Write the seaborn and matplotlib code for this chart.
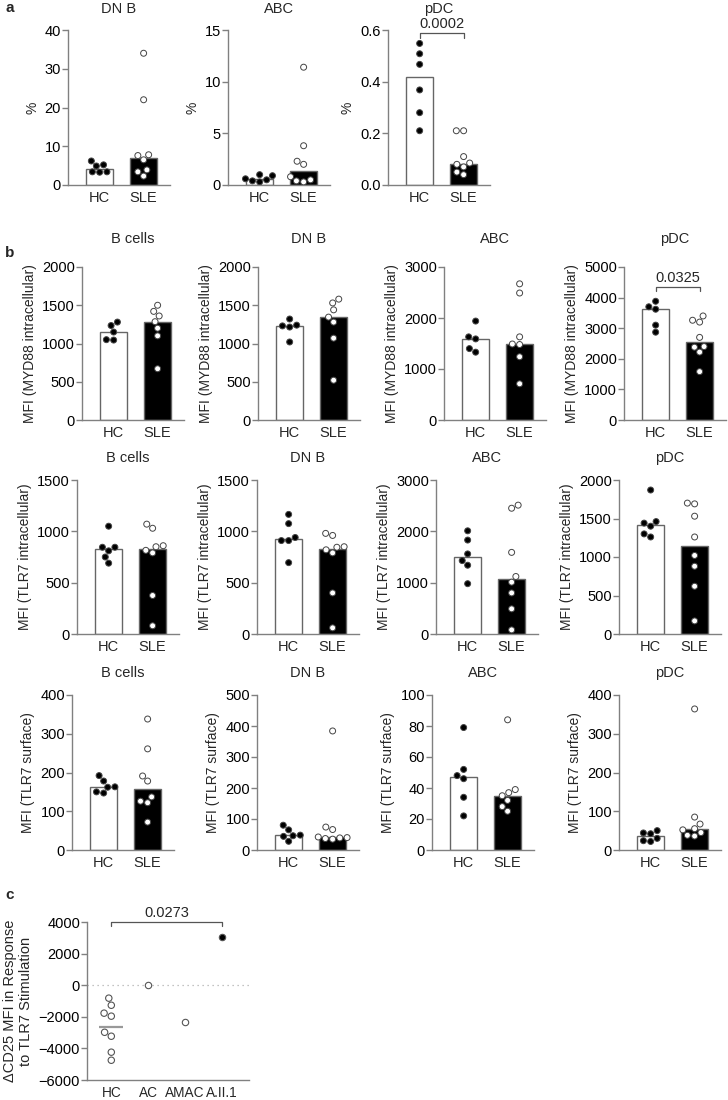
import numpy as np
import pandas as pd
import matplotlib.pyplot as plt
import seaborn as sns

sns.set_theme(style='ticks')
plt.rcParams['font.family'] = ['Liberation Sans', 'DejaVu Sans']

# Dados (a: % de células; b: MFI; c: delta CD25)
grupos = ['HC', 'SLE']

a_dnb_hc = [6.2, 5.2, 4.9, 3.4, 3.4, 3.3]
a_dnb_sle = [34, 22, 7.8, 7.6, 6.5, 3.9, 3.4, 2.3]
a_abc_hc = [0.9, 0.6, 1.0, 0.4, 0.3, 0.5]
a_abc_sle = [11.4, 3.8, 2.3, 2.0, 0.8, 0.5, 0.4, 0.3]
a_pdc_hc = [0.548, 0.508, 0.467, 0.368, 0.28, 0.21]
a_pdc_sle = [0.21, 0.21, 0.11, 0.085, 0.08, 0.07, 0.05, 0.04]

myd_bcell_hc = [1280, 1235, 1150, 1050, 1045]
myd_bcell_sle = [1500, 1420, 1360, 1285, 1200, 1100, 670]
myd_dnb_hc = [1320, 1240, 1230, 1215, 1020]
myd_dnb_sle = [1580, 1530, 1440, 1345, 1280, 1070, 520]
myd_abc_hc = [1940, 1630, 1590, 1400, 1330]
myd_abc_sle = [2670, 2490, 1630, 1490, 1480, 1240, 710]
myd_pdc_hc = [3880, 3700, 3620, 3100, 2870]
myd_pdc_sle = [3400, 3260, 3200, 2700, 2400, 2380, 2220, 1580]

tlr7i_bcell_hc = [1050, 845, 845, 810, 750, 690]
tlr7i_bcell_sle = [1070, 1030, 860, 850, 815, 790, 375, 80]
tlr7i_dnb_hc = [1165, 1075, 940, 910, 910, 695]
tlr7i_dnb_sle = [980, 960, 850, 845, 820, 790, 400, 60]
tlr7i_abc_hc = [2010, 1830, 1560, 1430, 1340, 980]
tlr7i_abc_sle = [2510, 2450, 1590, 1120, 1010, 800, 490, 80]
tlr7i_pdc_hc = [1870, 1460, 1440, 1400, 1300, 1260]
tlr7i_pdc_sle = [1700, 1690, 1530, 1260, 1020, 880, 620, 170]

tlr7s_bcell_hc = [192, 178, 163, 162, 150, 147]
tlr7s_bcell_sle = [338, 261, 191, 178, 137, 126, 122, 72]
tlr7s_dnb_hc = [80, 65, 48, 46, 44, 28]
tlr7s_dnb_sle = [384, 74, 66, 42, 40, 39, 37, 35]
tlr7s_abc_hc = [79, 52, 48, 46, 34, 22]
tlr7s_abc_sle = [84, 39, 37, 35, 32, 28, 25]
tlr7s_pdc_hc = [50, 44, 42, 30, 24, 22]
tlr7s_pdc_sle = [364, 85, 67, 55, 52, 45, 38, 36]

c_grupos = ['HC', 'AC', 'AMAC', 'A.II.1']
c_hc = [-820, -1270, -1960, -1770, -3230, -2980, -4240, -4750]
c_ac = [0]
c_amac = [-2340]
c_aii1 = [3040]

W, H = 728, 1100
fig = plt.figure(figsize=(W / 100, H / 100), dpi=100)
CINZA = '#808080'
FS = 10.5


def make_ax(left, top, width, bottom):
    return fig.add_axes([left / W, 1 - bottom / H, width / W, (bottom - top) / H])


def estilo(ax, xsize=FS):
    sns.despine(ax=ax)
    for s in ['left', 'bottom']:
        ax.spines[s].set_color(CINZA)
        ax.spines[s].set_linewidth(1.0)
    ax.tick_params(axis='y', colors=CINZA, labelcolor='black', length=4, width=1, labelsize=FS, pad=1)
    ax.tick_params(axis='x', length=0, labelsize=xsize, pad=4)


def bar_panel(ax, hc, sle, title, ylabel, ymax, step, fmt=None, pad=13):
    df = pd.DataFrame({'grupo': ['HC'] * len(hc) + ['SLE'] * len(sle),
                       'valor': list(hc) + list(sle)})
    sns.barplot(data=df, x='grupo', y='valor', hue='grupo', order=grupos,
                estimator='median', errorbar=None, palette={'HC': 'white', 'SLE': 'black'},
                edgecolor='#666666', linewidth=1.0, width=0.62, legend=False, ax=ax)
    sns.swarmplot(data=df, x='grupo', y='valor', hue='grupo', order=grupos,
                  palette={'HC': 'black', 'SLE': 'white'}, edgecolor='#444444',
                  linewidth=0.7, size=4.3, legend=False, ax=ax)
    ax.set_xlim(-0.72, 1.6)
    ax.set_ylim(0, ymax)
    ticks = np.arange(0, ymax + step / 2, step)
    ax.set_yticks(ticks)
    if fmt:
        ax.set_yticklabels([fmt.format(t) for t in ticks])
    ax.set_xlabel('')
    ax.set_ylabel(ylabel, fontsize=FS - 0.5)
    ax.set_title(title, fontsize=FS, pad=pad)
    estilo(ax)


def bracket(ax, x0, x1, y, drop, text):
    ax.plot([x0, x0, x1, x1], [y - drop, y, y, y - drop], color='#555555', lw=0.9, clip_on=False)
    ax.text((x0 + x1) / 2, y + drop * 0.4, text, ha='center', va='bottom', fontsize=FS, clip_on=False)


# Painel a
a_lefts = [68, 228, 388]
ax = make_ax(a_lefts[0], 30, 102, 185)
bar_panel(ax, a_dnb_hc, a_dnb_sle, 'DN B', '%', 40, 10, pad=12)
ax = make_ax(a_lefts[1], 30, 102, 185)
bar_panel(ax, a_abc_hc, a_abc_sle, 'ABC', '%', 15, 5, pad=12)
ax = make_ax(a_lefts[2], 30, 102, 185)
bar_panel(ax, a_pdc_hc, a_pdc_sle, 'pDC', '%', 0.6, 0.2, fmt='{:.1f}', pad=12)
bracket(ax, 0, 1, 0.59, 0.02, '0.0002')

# Painel b
celulas = ['B cells', 'DN B', 'ABC', 'pDC']
linhas = [
    ('MFI (MYD88 intracellular)', 267, 420, [82, 258, 444, 624],
     [(myd_bcell_hc, myd_bcell_sle, 2000, 500), (myd_dnb_hc, myd_dnb_sle, 2000, 500),
      (myd_abc_hc, myd_abc_sle, 3000, 1000), (myd_pdc_hc, myd_pdc_sle, 5000, 1000)], 17),
    ('MFI (TLR7 intracellular)', 480, 634, [77, 257, 436, 619],
     [(tlr7i_bcell_hc, tlr7i_bcell_sle, 1500, 500), (tlr7i_dnb_hc, tlr7i_dnb_sle, 1500, 500),
      (tlr7i_abc_hc, tlr7i_abc_sle, 3000, 1000), (tlr7i_pdc_hc, tlr7i_pdc_sle, 2000, 500)], 13),
    ('MFI (TLR7 surface)', 695, 850, [72, 257, 432, 619],
     [(tlr7s_bcell_hc, tlr7s_bcell_sle, 400, 100), (tlr7s_dnb_hc, tlr7s_dnb_sle, 500, 100),
      (tlr7s_abc_hc, tlr7s_abc_sle, 100, 20), (tlr7s_pdc_hc, tlr7s_pdc_sle, 400, 100)], 13),
]
for i, (ylabel, top, bottom, lefts, paineis, pad) in enumerate(linhas):
    for j, (hc, sle, ymax, step) in enumerate(paineis):
        ax = make_ax(lefts[j], top, 102, bottom)
        bar_panel(ax, hc, sle, celulas[j], ylabel, ymax, step, pad=pad)
        if i == 0 and j == 3:
            bracket(ax, 0, 1, 4350, 150, '0.0325')

# Painel c
dfc = pd.DataFrame({'grupo': ['HC'] * len(c_hc) + ['AC'] * len(c_ac) + ['AMAC'] * len(c_amac)
                    + ['A.II.1'] * len(c_aii1),
                    'valor': c_hc + c_ac + c_amac + c_aii1})
ax = make_ax(87, 922, 162, 1080)
ax.axhline(0, color='#b0b0b0', ls=(0, (1, 3)), lw=0.9, zorder=0)
sns.pointplot(data=dfc[dfc['grupo'] == 'HC'], x='grupo', y='valor', order=c_grupos,
              estimator='mean', errorbar=None, markers='_', markersize=17,
              markeredgewidth=1.6, color='#999999', linestyle='none', ax=ax)
sns.swarmplot(data=dfc, x='grupo', y='valor', hue='grupo', order=c_grupos,
              palette={'HC': 'white', 'AC': 'white', 'AMAC': 'white', 'A.II.1': 'black'},
              edgecolor='#555555', linewidth=0.8, size=4.6, legend=False, ax=ax)
ax.set_xlim(-0.66, 3.74)
ax.set_ylim(-6000, 4000)
ax.set_yticks(np.arange(-6000, 4001, 2000))
ax.set_xlabel('')
ax.set_ylabel('ΔCD25 MFI in Response\nto TLR7 Stimulation', fontsize=FS)
estilo(ax, xsize=9.8)
bracket(ax, 0, 3, 4000, 250, '0.0273')

# Letras dos painéis
for letra, y in [('a', 8), ('b', 253), ('c', 895)]:
    fig.text(5 / W, 1 - y / H, letra, fontsize=11, fontweight='bold', va='center')

fig.savefig('out.png', dpi=100)
